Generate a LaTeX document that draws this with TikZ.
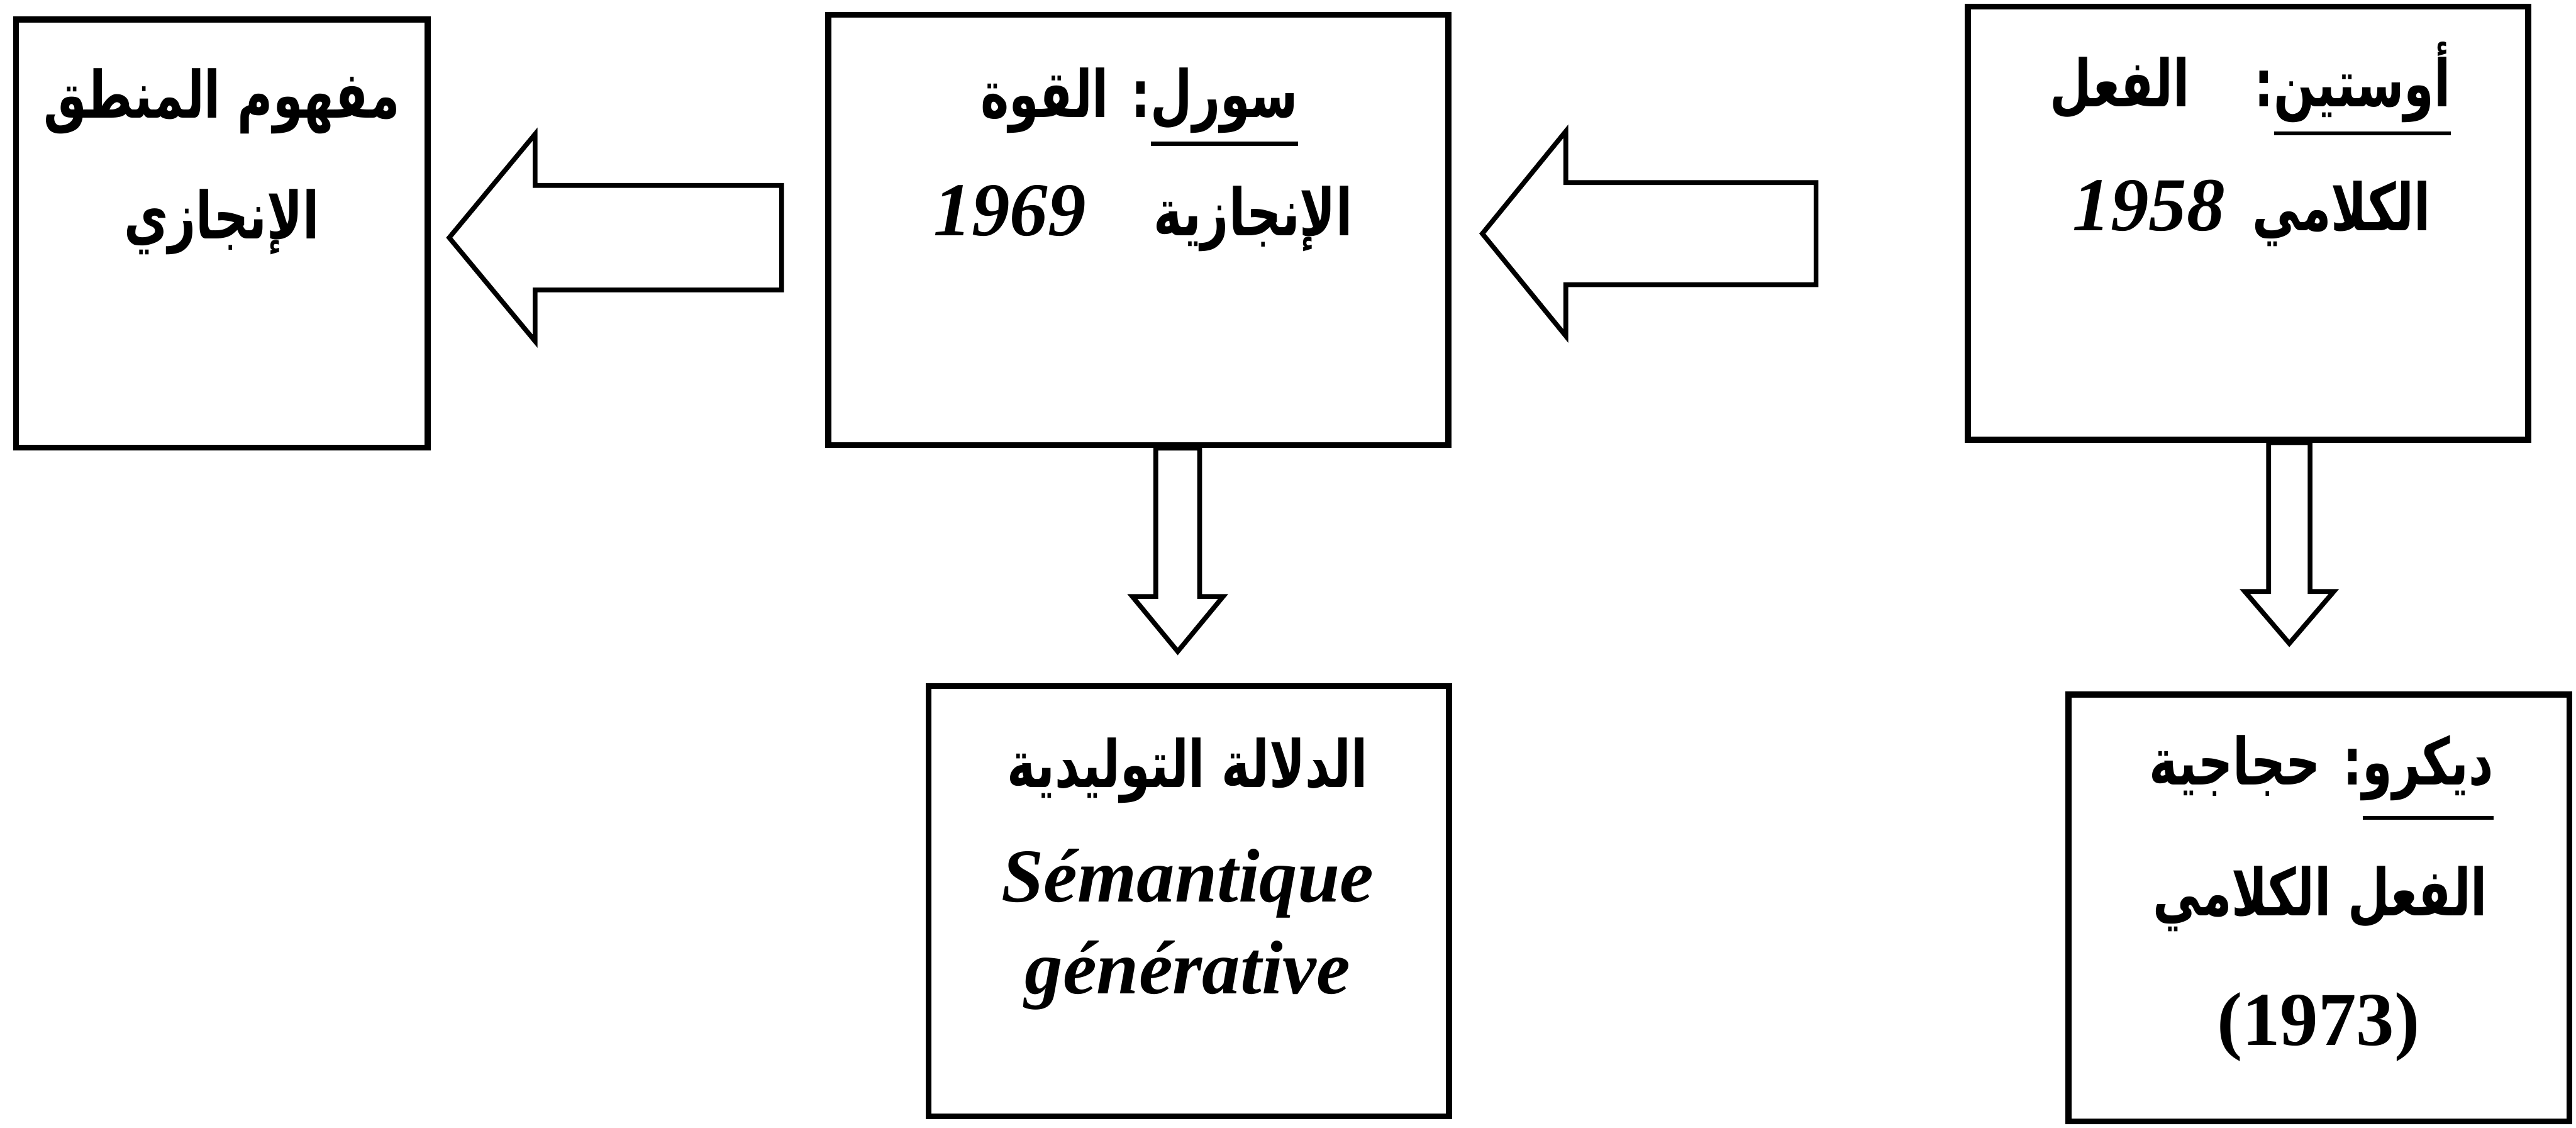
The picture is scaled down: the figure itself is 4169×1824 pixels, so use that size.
\documentclass[tikz,border=0pt]{standalone}
\usepackage{fontspec}
\usetikzlibrary{calc}
\setmainfont{Liberation Serif}
\newfontfamily\arabicfont[Script=Arabic, FakeStretch=0.74]{DejaVu Sans}
\TeXXeTstate=1
\newcommand{\artxt}{\arabicfont\bfseries\fontsize{30}{36}\selectfont}
\newcommand{\lattxt}{\rmfamily\bfseries\fontsize{35}{42}\selectfont}
% underlined word, rule set #1 below the baseline
\newcommand{\uline}[2][13pt]{\hbox{\setbox0\hbox{#2}\rlap{\raisebox{-#1}{\rule{\wd0}{1.8pt}}}\box0}}

% hollow block arrow: #1 tail, #2 tip, #3 shaft half-width, #4 head half-width, #5 head length
\newcommand{\blockarrow}[5]{%
  \coordinate (#1-hb) at ($(#2)!#5!(#1)$);
  \draw[arrowline] ($(#1)!#3!90:(#2)$) -- ($(#1-hb)!#3!90:(#2)$)
    -- ($(#1-hb)!#4!90:(#2)$) -- (#2) -- ($(#1-hb)!#4!-90:(#2)$)
    -- ($(#1-hb)!#3!-90:(#2)$) -- ($(#1)!#3!-90:(#2)$) -- cycle;
}

\begin{document}
\begin{tikzpicture}[x=0.01cm, y=-0.01cm,
  box/.style={draw, line width=2.8pt, rectangle, inner sep=0pt},
  arrowline/.style={line width=2.2pt, line join=miter},
  txt/.style={inner sep=0pt, anchor=base}]
\useasboundingbox (0,0) rectangle (4169,1824);

% boxes
\node[box, minimum width=6.66cm, minimum height=6.92cm] (A) at (359,378) {};
\node[box, minimum width=10.03cm, minimum height=6.96cm] (B) at (1842,372) {};
\node[box, minimum width=9.06cm, minimum height=7.00cm] (C) at (3638,361) {};
\node[box, minimum width=8.42cm, minimum height=6.96cm] (D) at (1924,1458) {};
\node[box, minimum width=8.10cm, minimum height=6.90cm] (E) at (3753,1469) {};

% texts
\node[txt] (A1) at (359,191) {\artxt\beginR مفهوم المنطق\endR};
\node[txt] (A2) at (359,386) {\artxt\beginR الإنجازي\endR};

\node[txt] (B1) at (1844,190) {\artxt\beginR\uline{سورل}: القوة\endR};
\node[txt] (B2) at (1850,381) {\artxt\beginR الإنجازية\hspace{1.1cm}\beginL{\lattxt\itshape 1969}\endL\endR};

\node[txt] (C1) at (3642,173) {\artxt\beginR\uline{أوستين}:\hspace{1.05cm}الفعل\endR};
\node[txt] (C2) at (3644,373) {\artxt\beginR الكلامي\hspace{0.45cm}\beginL{\lattxt\itshape 1958}\endL\endR};

\node[txt] (D1) at (1922,1274) {\artxt\beginR الدلالة التوليدية\endR};
\node[txt] (D2) at (1922,1459) {\lattxt\itshape Sémantique};
\node[txt] (D3) at (1922,1608) {\lattxt\itshape générative};

\node[txt] (E1) at (3757,1270) {\artxt\beginR\uline[16pt]{ديكرو}: حجاجية\endR};
\node[txt] (E2) at (3755,1481) {\artxt\beginR الفعل الكلامي\endR};
\node[txt] (E3) at (3752,1691) {\lattxt (1973)};

% arrow end points
\coordinate (ab-tail) at (1265,384.5);
\coordinate (ab-tip) at (727,384.5);
\coordinate (bc-tail) at (2939,378);
\coordinate (bc-tip) at (2399,378);
\coordinate (bd-tail) at (B.south -| 1906,0);
\coordinate (bd-tip) at (1906,1054);
\coordinate (ce-tail) at (C.south -| 3705,0);
\coordinate (ce-tip) at (3705,1041);

\blockarrow{ab-tail}{ab-tip}{0.845cm}{1.675cm}{1.39cm}
\blockarrow{bc-tail}{bc-tip}{0.825cm}{1.655cm}{1.35cm}
\blockarrow{bd-tail}{bd-tip}{0.355cm}{0.735cm}{0.89cm}
\blockarrow{ce-tail}{ce-tip}{0.335cm}{0.72cm}{0.84cm}
\end{tikzpicture}
\end{document}
